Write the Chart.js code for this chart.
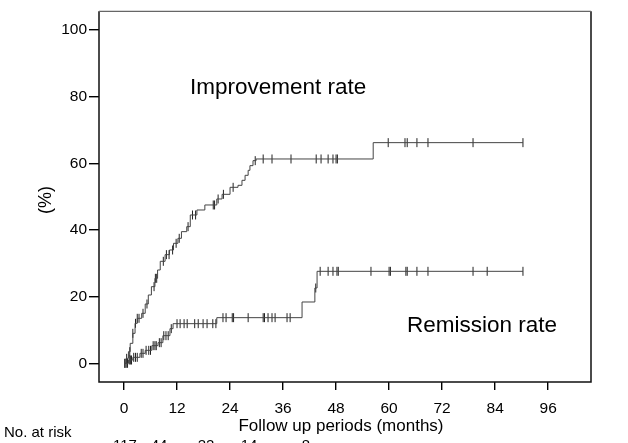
<!DOCTYPE html>
<html>
<head>
<meta charset="utf-8">
<script src="https://cdn.jsdelivr.net/npm/chart.js@4/dist/chart.umd.min.js"></script>
<style>
html,body{margin:0;padding:0;background:#fff;}
#wrap{width:628px;height:443px;position:relative;}
</style>
</head>
<body>
<div id="wrap"><canvas id="c"></canvas></div>
<script>
// ---- Data (months, %) ----
const xTicks = [0, 12, 24, 36, 48, 60, 72, 84, 96];
const yTicks = [0, 20, 40, 60, 80, 100];

// Improvement rate: Kaplan-Meier step points (time, cumulative %)
const impTime = [0, 0.5, 1, 1.4, 2, 2.5, 3, 4, 4.8, 5.5, 6.2, 7, 7.6, 8.2, 9.3, 10.3, 11.2, 12.2, 13, 14.2, 15, 16.5, 18.3, 21, 22.2, 24, 25.8, 26.7, 27.4, 28.1, 28.5, 29.2, 29.9, 56.4, 90.3];
const impVal  = [0, 1.5, 3.5, 6, 9, 12, 13.5, 15, 17.8, 20.5, 23, 25.5, 28, 30.6, 32.6, 34, 36, 37.5, 39.5, 41, 44.5, 46, 47.5, 49.3, 50.7, 52.8, 53.4, 54.9, 56.4, 57.9, 59.3, 60.8, 61.3, 66.2, 66.2];
// censored observations (months)
const impCensor = [0.2, 0.6, 1.3, 2.0, 2.6, 3.0, 3.4, 4.3, 5.2, 6.8, 7.1, 7.4, 8.9, 9.6, 10.2, 11.0, 11.8, 12.5, 14.5, 15.5, 16.2, 20.2, 20.5, 21.3, 22.5, 24.7, 29.7, 31.5, 33.5, 37.8, 43.5, 44.6, 46.2, 47.3, 48.0, 48.3, 59.8, 63.6, 64.1, 66.3, 68.8, 79, 90.3];

// Remission rate
const remTime = [0, 1, 2, 3.6, 4.8, 6.3, 7.7, 8.8, 10.4, 11.1, 21, 40.3, 43.2, 43.7, 90.3];
const remVal  = [0, 1, 1.8, 3, 3.9, 5.3, 6.2, 8.3, 10.4, 11.9, 13.7, 18.4, 22.6, 27.6, 27.6];
const remCensor = [0.2, 0.5, 0.8, 1.2, 1.5, 1.7, 2.2, 2.6, 3.0, 3.9, 4.3, 5.0, 5.6, 6.0, 6.6, 7.0, 7.3, 8.0, 8.4, 9.0, 9.5, 10.0, 10.7, 12.0, 12.7, 13.6, 14.3, 16.0, 16.8, 17.9, 18.8, 20.1, 20.8, 22.4, 23.1, 24.5, 24.8, 28.1, 31.5, 31.8, 32.6, 33.5, 34.2, 36.9, 37.6, 43.4, 44.4, 46.2, 47.3, 48.2, 48.5, 55.9, 60.0, 60.3, 63.8, 64.1, 66.3, 68.8, 79, 82.2, 90.3];

const riskLabel = "No. at risk";
const riskNums = ["117", "44", "22", "14", "8"];
const riskX = [125, 159, 206, 249, 306];

// ---- helpers ----
function toPts(t, v){ return t.map((x,i)=>({x:x, y:v[i]})); }
function onCurve(t, v, c){ // censor marks sit on the step curve
  return c.map(x=>{ let y=v[0]; for(let i=0;i<t.length;i++){ if(t[i]<=x) y=v[i]; } return {x:x,y:y}; });
}

const FONT = "'Liberation Sans', Arial, sans-serif";

const boxAndText = {
  id: 'boxAndText',
  afterDraw(chart){
    const ctx = chart.ctx, a = chart.chartArea;
    ctx.save();
    ctx.strokeStyle = '#111';
    ctx.lineWidth = 1.5;
    ctx.beginPath();
    ctx.moveTo(a.right, a.top); ctx.lineTo(a.right, a.bottom); ctx.lineTo(a.left, a.bottom); ctx.lineTo(a.left, a.top);
    ctx.stroke();
    ctx.strokeStyle = '#666'; ctx.lineWidth = 1.2;
    ctx.beginPath(); ctx.moveTo(a.left, a.top); ctx.lineTo(a.right, a.top); ctx.stroke();
    ctx.fillStyle = '#000';
    ctx.font = '22.5px ' + FONT;
    ctx.textAlign = 'left'; ctx.textBaseline = 'middle';
    ctx.fillText('Improvement rate', 190, 88);
    ctx.fillText('Remission rate', 407, 326);
    ctx.font = '17px ' + FONT;
    ctx.textAlign = 'center';
    ctx.fillText('Follow up periods (months)', 341, 426);
    ctx.save();
    ctx.translate(46, 200); ctx.rotate(-Math.PI/2);
    ctx.font = '18px ' + FONT;
    ctx.fillText('(%)', 0, 0);
    ctx.restore();
    ctx.font = '15px ' + FONT;
    ctx.textAlign = 'left';
    ctx.fillText(riskLabel, 4, 433);
    ctx.textAlign = 'center'; ctx.textBaseline = 'top';
    riskNums.forEach((n,i)=>ctx.fillText(n, riskX[i], 438));
    ctx.restore();
  }
};

new Chart(document.getElementById('c'), {
  type: 'line',
  data: {
    datasets: [
      { label: 'Improvement rate', data: toPts(impTime, impVal), stepped: true, borderColor: '#444', borderWidth: 1, pointRadius: 0, fill: false },
      { label: 'Remission rate', data: toPts(remTime, remVal), stepped: true, borderColor: '#444', borderWidth: 1, pointRadius: 0, fill: false },
      { label: 'imp censored', type: 'scatter', data: onCurve(impTime, impVal, impCensor), pointStyle: 'line', rotation: 90, pointRadius: 4.5, borderColor: '#222', borderWidth: 1, backgroundColor: '#222' },
      { label: 'rem censored', type: 'scatter', data: onCurve(remTime, remVal, remCensor), pointStyle: 'line', rotation: 90, pointRadius: 4.5, borderColor: '#222', borderWidth: 1, backgroundColor: '#222' }
    ]
  },
  options: {
    responsive: true,
    maintainAspectRatio: false,
    animation: false,
    layout: { padding: { left: 0, right: 37, top: 7, bottom: 0 } },
    plugins: { legend: { display: false }, tooltip: { enabled: false } },
    scales: {
      x: {
        type: 'linear', min: -5.66, max: 105.7,
        afterBuildTicks: s => { s.ticks = xTicks.map(v=>({value:v})); },
        afterFit: s => { s.height = 61; },
        border: { display: false },
        grid: { drawOnChartArea: false, drawTicks: true, tickLength: 8, color: '#000', lineWidth: 1.4 },
        ticks: { color: '#000', font: { family: FONT, size: 15.5 }, padding: 9, maxRotation: 0, autoSkip: false }
      },
      y: {
        type: 'linear', min: -5.6, max: 105.6,
        afterBuildTicks: s => { s.ticks = yTicks.map(v=>({value:v})); },
        afterFit: s => { s.width = 99; },
        border: { display: false },
        grid: { drawOnChartArea: false, drawTicks: true, tickLength: 10, color: '#000', lineWidth: 1.4 },
        ticks: { color: '#000', font: { family: FONT, size: 15.5 }, padding: 2, autoSkip: false }
      }
    }
  },
  plugins: [boxAndText]
});
</script>
</body>
</html>
